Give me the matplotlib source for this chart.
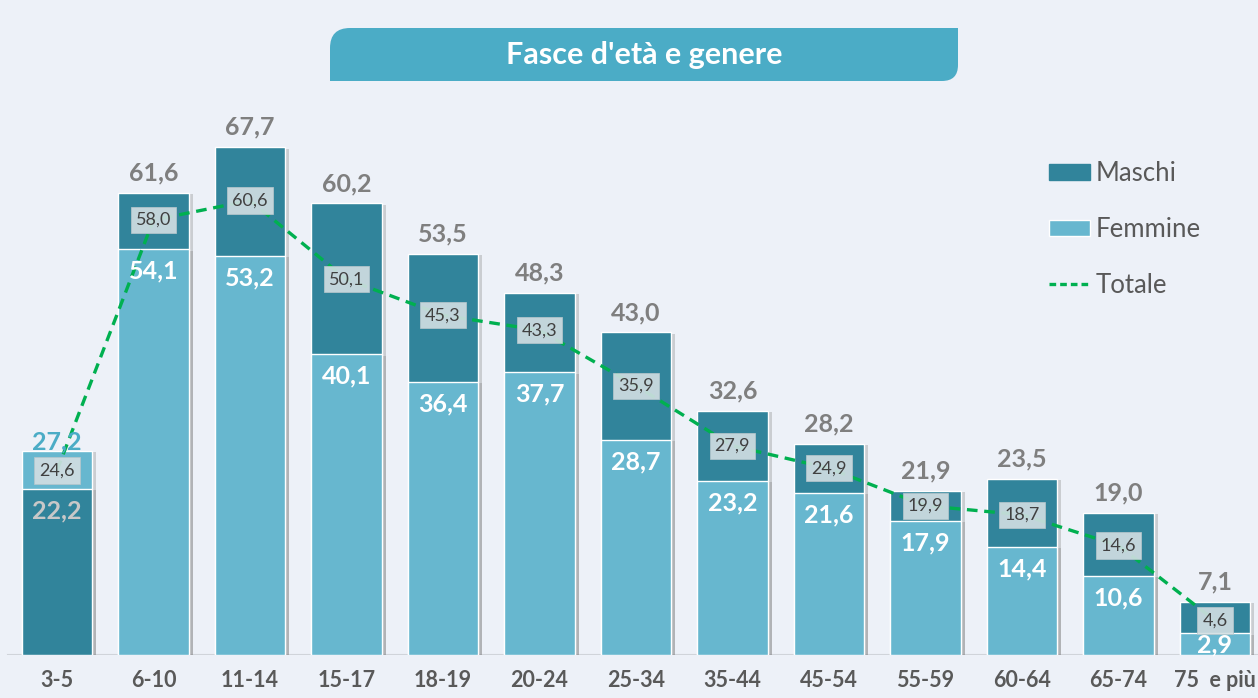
import matplotlib
matplotlib.use("Agg")
import matplotlib.pyplot as plt
import matplotlib.patheffects as pe
from matplotlib.patches import Patch, PathPatch
from matplotlib.lines import Line2D
from matplotlib.path import Path
from matplotlib import transforms
import numpy as np

plt.rcParams['font.family'] = ['Lato', 'DejaVu Sans']

# data
categories = ['3-5', '6-10', '11-14', '15-17', '18-19', '20-24', '25-34',
              '35-44', '45-54', '55-59', '60-64', '65-74', '75  e più']
maschi = [22.2, 61.6, 67.7, 60.2, 53.5, 48.3, 43.0, 32.6, 28.2, 21.9, 23.5, 19.0, 7.1]
femmine = [27.2, 54.1, 53.2, 40.1, 36.4, 37.7, 28.7, 23.2, 21.6, 17.9, 14.4, 10.6, 2.9]
totale = [24.6, 58.0, 60.6, 50.1, 45.3, 43.3, 35.9, 27.9, 24.9, 19.9, 18.7, 14.6, 4.6]

#colours
bg = '#EDF1F8'
c_m = '#31849B'
c_f = '#67B7CF'
c_tot = '#00B050'
c_title = '#4BACC6'

def fmt(v):
    return f"{v:.1f}".replace('.', ',')

W, H = 1258, 698
fig = plt.figure(figsize=(W / 100, H / 100), dpi=100, facecolor=bg)
px = transforms.Affine2D().scale(1 / W, 1 / H) + fig.transFigure

ax = fig.add_axes([0, 43 / H, 1, 562.5 / H])
ax.set_facecolor(bg)
ax.set_xlim(-0.59, 12.446)
ax.set_ylim(0, 75)
for s in ax.spines.values():
    s.set_visible(False)
ax.set_yticks([])
x = np.arange(len(categories))
ax.set_xticks(x)
ax.set_xticklabels(categories, fontsize=15.5, fontweight='bold', color='#595959')
ax.tick_params(axis='x', length=0, pad=11)
ax.axhline(0, xmin=8 / W, xmax=1, color='#D0D4DA', lw=1.5, zorder=1)

shadow = [pe.SimplePatchShadow(offset=(3, -1), shadow_rgbFace='#7A7A7A', alpha=0.3), pe.Normal()]
bw = 0.73

for i in range(len(categories)):
    m, f = maschi[i], femmine[i]
    if m >= f:
        tall, tc, short, sc = m, c_m, f, c_f
        top_col, in_col = '#7F7F7F', 'white'
        off = 6
    else:
        tall, tc, short, sc = f, c_f, m, c_m
        top_col, in_col = c_title, '#C8C8C8'
        off = -2
    ax.bar(x[i], tall, width=bw, color=tc, edgecolor='white', lw=1, zorder=2,
           path_effects=shadow)
    ax.bar(x[i], short, width=bw, color=sc, edgecolor='white', lw=1, zorder=3,
           path_effects=shadow)
    ax.annotate(fmt(tall), (x[i], tall), xytext=(0, off), textcoords='offset points',
                ha='center', va='bottom', fontsize=18, fontweight='bold', color=top_col, zorder=6)
    ax.text(x[i], max(short - 2.95, 1.3), fmt(short), ha='center', va='center',
            fontsize=18, fontweight='bold', color=in_col, zorder=6)

ax.plot(x, totale, color=c_tot, lw=2.4, dashes=(3.2, 2.0), zorder=4)
for i, t in enumerate(totale):
    ax.text(x[i], t, fmt(t), ha='center', va='center', fontsize=13, color='#404040', zorder=5,
            bbox=dict(boxstyle='square,pad=0.28', fc='#D3DFE3', ec='#B5C6CB', lw=0.6, alpha=0.9))

# title box, rounded top-left and bottom-right corners
x0, x1, yb, yt = 330, 958, H - 81, H - 28
r1, r2 = 20, 16
verts = [(x0, yb), (x1 - r2, yb), (x1, yb), (x1, yb + r2), (x1, yt),
         (x0 + r1, yt), (x0, yt), (x0, yt - r1), (x0, yb)]
codes = [Path.MOVETO, Path.LINETO, Path.CURVE3, Path.CURVE3, Path.LINETO,
         Path.LINETO, Path.CURVE3, Path.CURVE3, Path.CLOSEPOLY]
fig.patches.append(PathPatch(Path(verts, codes), transform=px, fc=c_title, ec='none'))
fig.text(644 / W, 1 - 55 / H, "Fasce d'età e genere", ha='center', va='center',
         fontsize=22, fontweight='bold', color='white')

handles = [Patch(facecolor=c_m, edgecolor=c_m),
           Patch(facecolor=c_f, edgecolor='white'),
           Line2D([], [], color=c_tot, lw=2.4, dashes=(2.0, 1.2))]
fig.legend(handles, ['Maschi', 'Femmine', 'Totale'], loc='upper left',
           bbox_to_anchor=(1026 / W, 1 - 138 / H), frameon=False, fontsize=18.5,
           handlelength=1.6, handleheight=0.6, handletextpad=0.2, labelspacing=1.2,
           labelcolor='#595959')

fig.savefig('out.png', dpi=100, facecolor=bg)
